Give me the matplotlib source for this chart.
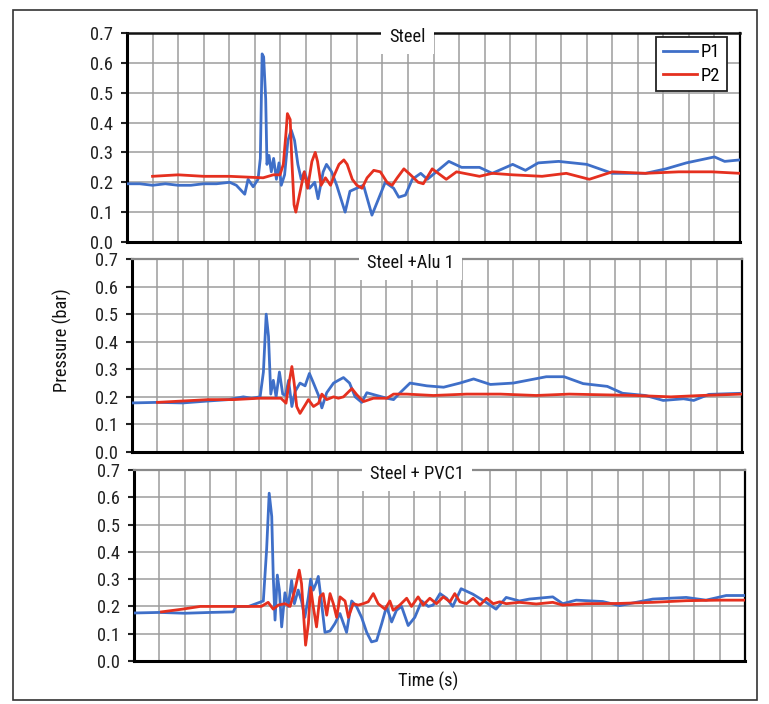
import matplotlib
matplotlib.use("Agg")
import matplotlib.pyplot as plt
import numpy as np
from matplotlib import font_manager
from matplotlib.patches import Rectangle

# ------------------------------------------------------------------ #
#   DATA  (time in grid units, pressure in bar)                      #
# ------------------------------------------------------------------ #
titles = ['Steel', 'Steel +Alu 1', 'Steel + PVC1']

# Steel
steel_t1 = [0, 0.5, 1, 1.5, 2, 2.5, 3, 3.5, 4.02, 4.28, 4.61, 4.74, 4.94, 5.13, 5.22, 5.29, 5.35,
            5.43, 5.48, 5.56, 5.65, 5.74, 5.85, 5.95, 6.04, 6.17, 6.30, 6.43, 6.56, 6.69, 6.82,
            6.95, 7.15, 7.35, 7.48, 7.68, 7.81, 8.01, 8.21, 8.54, 8.73, 8.99, 9.26, 9.59, 9.85,
            10.11, 10.44, 10.64, 10.9, 11.17, 11.5, 11.76, 12.6, 13.1, 13.8, 14.3, 15.1, 15.6,
            16.1, 16.9, 18.0, 19.0, 20.3, 21.1, 21.9, 23.0, 23.4, 24.0]
steel_p1 = [0.195, 0.195, 0.19, 0.195, 0.19, 0.19, 0.195, 0.195, 0.20, 0.19, 0.16, 0.21, 0.185,
            0.21, 0.28, 0.63, 0.62, 0.48, 0.26, 0.29, 0.235, 0.28, 0.21, 0.265, 0.19, 0.225,
            0.34, 0.375, 0.34, 0.26, 0.21, 0.235, 0.18, 0.20, 0.145, 0.235, 0.26, 0.235, 0.19,
            0.10, 0.17, 0.18, 0.19, 0.09, 0.145, 0.20, 0.18, 0.15, 0.157, 0.21, 0.23, 0.21,
            0.27, 0.25, 0.25, 0.23, 0.26, 0.24, 0.265, 0.27, 0.26, 0.23, 0.23, 0.245, 0.265,
            0.285, 0.27, 0.275]
steel_t2 = [1.0, 2.0, 3.0, 4.02, 5.33, 5.73, 5.99, 6.12, 6.23, 6.28, 6.39, 6.45, 6.54, 6.61, 6.78,
            6.94, 7.07, 7.24, 7.37, 7.46, 7.6, 7.77, 7.97, 8.12, 8.3, 8.49, 8.62, 8.82, 9.0, 9.2,
            9.4, 9.66, 9.92, 10.18, 10.38, 10.58, 10.84, 11.1, 11.4, 11.6, 11.95, 12.5, 12.9,
            13.8, 14.3, 15.1, 16.25, 17.2, 18.1, 19.0, 20.3, 21.6, 22.9, 24.0]
steel_p2 = [0.22, 0.225, 0.22, 0.22, 0.215, 0.225, 0.225, 0.26, 0.37, 0.43, 0.41, 0.28, 0.125,
            0.10, 0.17, 0.235, 0.18, 0.27, 0.30, 0.27, 0.19, 0.215, 0.19, 0.225, 0.26, 0.275,
            0.26, 0.21, 0.19, 0.18, 0.215, 0.24, 0.235, 0.20, 0.19, 0.215, 0.245, 0.225, 0.20,
            0.195, 0.245, 0.21, 0.235, 0.22, 0.23, 0.225, 0.22, 0.23, 0.21, 0.235, 0.23, 0.235,
            0.235, 0.23]

# Steel + Alu 1
alu_t1 = [0, 1, 2, 3, 3.8, 4.38, 4.7, 5.04, 5.17, 5.28, 5.37, 5.46, 5.56, 5.67, 5.80, 5.93, 6.04,
          6.16, 6.29, 6.42, 6.61, 6.81, 6.98, 7.14, 7.34, 7.47, 7.66, 7.93, 8.12, 8.32, 8.56,
          8.78, 9.04, 9.24, 9.63, 10.03, 10.29, 10.55, 10.94, 11.6, 12.26, 12.9, 13.44, 14.1,
          15.0, 16.3, 17.0, 17.75, 18.7, 19.3, 20.2, 20.9, 21.7, 22.1, 22.7, 24.0]
alu_p1 = [0.178, 0.18, 0.178, 0.185, 0.19, 0.20, 0.195, 0.20, 0.29, 0.50, 0.42, 0.21, 0.26, 0.20,
          0.29, 0.21, 0.205, 0.26, 0.165, 0.22, 0.25, 0.24, 0.285, 0.25, 0.205, 0.16, 0.215,
          0.25, 0.26, 0.27, 0.25, 0.20, 0.18, 0.215, 0.205, 0.195, 0.19, 0.215, 0.25, 0.24,
          0.235, 0.25, 0.265, 0.245, 0.25, 0.273, 0.273, 0.248, 0.238, 0.213, 0.205, 0.187,
          0.193, 0.187, 0.209, 0.213]
alu_t2 = [1.0, 2.0, 3.0, 4.0, 5.0, 5.86, 6.06, 6.16, 6.29, 6.38, 6.48, 6.61, 6.81, 6.94, 7.14,
          7.34, 7.47, 7.66, 7.93, 8.12, 8.32, 8.65, 8.85, 9.11, 9.5, 10.03, 10.29, 10.81, 11.86,
          13.17, 14.5, 15.9, 17.2, 19.8, 21.2, 22.4, 24.0]
alu_p2 = [0.18, 0.185, 0.19, 0.19, 0.195, 0.195, 0.177, 0.24, 0.31, 0.25, 0.165, 0.14, 0.17,
          0.19, 0.165, 0.177, 0.21, 0.19, 0.20, 0.195, 0.20, 0.23, 0.207, 0.183, 0.195, 0.195,
          0.21, 0.21, 0.205, 0.21, 0.21, 0.205, 0.21, 0.205, 0.20, 0.205, 0.21]

# Steel + PVC1
pvc_t1 = [0, 1, 2, 3, 3.9, 4.0, 4.5, 5.08, 5.21, 5.31, 5.41, 5.47, 5.54, 5.63, 5.71, 5.80, 5.93,
          6.06, 6.19, 6.30, 6.45, 6.58, 6.71, 6.85, 6.94, 7.04, 7.15, 7.24, 7.37, 7.50, 7.70,
          7.89, 8.09, 8.35, 8.55, 8.74, 8.94, 9.14, 9.33, 9.53, 9.73, 9.92, 10.12, 10.31, 10.51,
          10.77, 11.03, 11.30, 11.56, 11.75, 12.02, 12.28, 12.52, 12.85, 13.31, 13.83, 14.22,
          14.62, 15.14, 15.53, 16.45, 16.84, 17.37, 18.41, 19.07, 20.38, 21.69, 22.47, 23.26, 24.0]
pvc_p1 = [0.176, 0.178, 0.175, 0.178, 0.18, 0.20, 0.20, 0.22, 0.41, 0.615, 0.53, 0.31, 0.15,
          0.315, 0.26, 0.125, 0.25, 0.20, 0.295, 0.21, 0.26, 0.22, 0.16, 0.235, 0.30, 0.26,
          0.284, 0.31, 0.21, 0.105, 0.11, 0.137, 0.174, 0.105, 0.22, 0.20, 0.16, 0.105, 0.07,
          0.075, 0.137, 0.20, 0.143, 0.186, 0.20, 0.13, 0.16, 0.22, 0.20, 0.205, 0.247, 0.23,
          0.20, 0.265, 0.245, 0.215, 0.19, 0.233, 0.22, 0.227, 0.235, 0.21, 0.223, 0.218, 0.203,
          0.227, 0.233, 0.223, 0.24, 0.24]
pvc_t2 = [1.08, 1.9, 2.6, 4.0, 5.0, 5.27, 5.47, 5.67, 5.93, 6.13, 6.32, 6.49, 6.58, 6.65, 6.74,
          6.85, 6.94, 7.04, 7.17, 7.30, 7.43, 7.57, 7.70, 7.83, 7.96, 8.09, 8.29, 8.42, 8.61,
          8.81, 9.0, 9.2, 9.4, 9.59, 9.86, 10.05, 10.18, 10.44, 10.71, 10.9, 11.16, 11.36, 11.62,
          11.88, 12.15, 12.41, 12.6, 12.8, 13.06, 13.32, 13.59, 13.85, 14.11, 14.37, 14.62,
          15.14, 15.8, 16.45, 16.84, 17.76, 19.07, 20.38, 21.69, 23.0, 24.0]
pvc_p2 = [0.18, 0.19, 0.20, 0.20, 0.20, 0.215, 0.19, 0.205, 0.21, 0.20, 0.26, 0.333, 0.284,
          0.186, 0.058, 0.137, 0.27, 0.20, 0.125, 0.235, 0.247, 0.168, 0.247, 0.21, 0.16, 0.235,
          0.22, 0.16, 0.21, 0.205, 0.21, 0.217, 0.247, 0.21, 0.19, 0.22, 0.186, 0.205, 0.23,
          0.20, 0.235, 0.205, 0.23, 0.21, 0.235, 0.217, 0.247, 0.217, 0.21, 0.23, 0.205, 0.23,
          0.21, 0.217, 0.21, 0.215, 0.209, 0.215, 0.205, 0.21, 0.211, 0.215, 0.221, 0.223, 0.223]

series = [(steel_t1, steel_p1, steel_t2, steel_p2),
          (alu_t1, alu_p1, alu_t2, alu_p2),
          (pvc_t1, pvc_p1, pvc_t2, pvc_p2)]

yticks = [0.0, 0.1, 0.2, 0.3, 0.4, 0.5, 0.6, 0.7]

# ------------------------------------------------------------------ #
#   STYLE                                                            #
# ------------------------------------------------------------------ #
# the scan uses a condensed sans: take the narrowest one installed
installed = {f.name for f in font_manager.fontManager.ttflist}
fsize = 12.5
for cand, size in [('Liberation Sans Narrow', 13.5), ('Roboto Condensed', 13.2),
                   ('Liberation Sans', 12.5)]:
    if cand in installed:
        plt.rcParams['font.family'] = [cand, 'DejaVu Sans']
        fsize = size
        break
plt.rcParams['font.stretch'] = 'condensed'
plt.rcParams['font.size'] = fsize

W, H = 769, 704
blue = '#3f6fc8'
red = '#e5301f'

# axes boxes in pixels: left, right, top, bottom (scan is a bit skewed)
boxes = [(127, 740, 33, 242), (132, 742, 259, 452), (134, 745, 470, 661)]
title_x = [0.457, 0.457, 0.463]

fig = plt.figure(figsize=(W / 100, H / 100), dpi=100)

for ii, (l, r, t, b) in enumerate(boxes):
    ax = fig.add_axes([l / W, 1 - b / H, (r - l) / W, (b - t) / H])
    tt1, pp1, tt2, pp2 = series[ii]
    ax.plot(tt1, pp1, color=blue, lw=2.0, label='P1', zorder=3)
    ax.plot(tt2, pp2, color=red, lw=2.0, label='P2', zorder=4)

    ax.set_xlim(0, 24)
    ax.set_ylim(0, 0.7)
    ax.set_xticks(np.arange(0, 25, 1))
    ax.set_xticklabels([])
    ax.tick_params(axis='x', length=0)
    ax.set_yticks(yticks)
    ax.set_yticklabels(['%.1f' % v for v in yticks])
    ax.tick_params(axis='y', length=4, width=1.5, pad=6, colors='#222222', labelsize=fsize)
    ax.grid(True, color='#9c9c9c', lw=1.1)
    ax.set_axisbelow(True)

    ax.spines['left'].set_linewidth(2.2)
    ax.spines['bottom'].set_linewidth(2.2)
    ax.spines['right'].set_linewidth(1.6)
    ax.spines['top'].set_linewidth(1.8 if ii == 0 else 1.6)
    ax.spines['top'].set_color('#111111' if ii == 0 else '#8a8a8a')

    # title sits on the top spine inside a white patch that hides the grid
    ax.text(title_x[ii], 1.0 - 4 / (b - t), titles[ii], transform=ax.transAxes,
            ha='center', va='center', fontsize=fsize, color='#111111', zorder=10,
            clip_on=False,
            bbox=dict(boxstyle='square,pad=0.45', facecolor='white', edgecolor='none'))

    if ii == 0:
        leg = ax.legend(loc='upper right', bbox_to_anchor=(0.983, 0.995), fancybox=False,
                        framealpha=1, edgecolor='#222222', handlelength=1.9,
                        handletextpad=0.2, borderpad=0.35, labelspacing=0.3,
                        borderaxespad=0.15, fontsize=fsize)
        leg.get_frame().set_linewidth(1.3)

fig.text(62 / W, 1 - 340 / H, 'Pressure (bar)', rotation=90, ha='center', va='center',
         fontsize=fsize, color='#111111')
fig.text(428 / W, 1 - 681 / H, 'Time (s)', ha='center', va='center', fontsize=fsize,
         color='#111111')

# outer frame of the figure box
fig.add_artist(Rectangle((13 / W, 1 - 700 / H), (757 - 13) / W, (700 - 10) / H,
                         transform=fig.transFigure, fill=False, lw=1.2, ec='#333333'))

plt.savefig('out.png', dpi=100)
